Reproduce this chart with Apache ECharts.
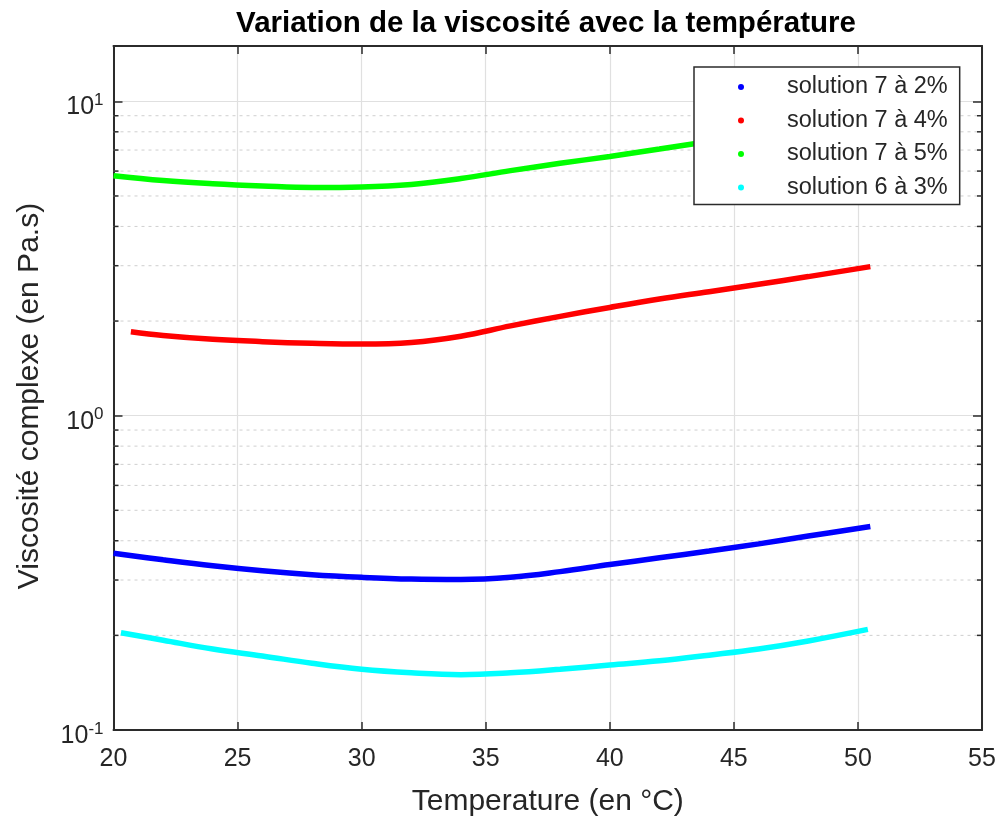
<!DOCTYPE html>
<html>
<head>
<meta charset="utf-8">
<script src="https://cdn.jsdelivr.net/npm/echarts@6/dist/echarts.min.js"></script>
<style>html,body{margin:0;padding:0;background:#fff}#c{width:1003px;height:818px}</style>
</head>
<body>
<div id="c"></div>
<script>
const seriesNames = ['solution 7 à 2%', 'solution 7 à 4%', 'solution 7 à 5%', 'solution 6 à 3%'];
const seriesColors = ['#0000ff', '#ff0000', '#00ff00', '#00ffff'];

const tempBlue = [20, 22, 24, 26, 28, 30, 32, 34, 36, 38, 40, 42, 44, 46, 48, 50.5];
const viscBlue = [0.365, 0.348, 0.333, 0.321, 0.312, 0.306, 0.302, 0.301, 0.306, 0.319, 0.336, 0.353, 0.371, 0.391, 0.414, 0.444];

const tempRed = [20.7, 22, 24, 26, 28, 30, 32, 34, 36, 38, 40, 42, 44, 46, 48, 50.5];
const viscRed = [1.85, 1.80, 1.75, 1.72, 1.70, 1.69, 1.71, 1.79, 1.93, 2.07, 2.21, 2.35, 2.48, 2.62, 2.77, 2.98];

const tempGreen = [20, 22, 24, 26, 28, 30, 32, 34, 36, 38, 40, 42, 44, 46, 48, 50.5];
const viscGreen = [5.80, 5.60, 5.47, 5.38, 5.32, 5.34, 5.44, 5.68, 6.02, 6.35, 6.68, 7.05, 7.45, 7.85, 8.30, 8.95];

const tempCyan = [20.3, 22, 24, 26, 28, 30, 32, 34, 36, 38, 40, 42, 44, 46, 48, 50.4];
const viscCyan = [0.204, 0.193, 0.181, 0.172, 0.163, 0.156, 0.152, 0.150, 0.152, 0.156, 0.161, 0.166, 0.173, 0.181, 0.192, 0.209];

const xTicks = [20, 25, 30, 35, 40, 45, 50, 55];
const yMinorTicks = [0.2, 0.3, 0.4, 0.5, 0.6, 0.7, 0.8, 0.9, 2, 3, 4, 5, 6, 7, 8, 9];

const temps = [tempBlue, tempRed, tempGreen, tempCyan];
const viscs = [viscBlue, viscRed, viscGreen, viscCyan];

const FONT = '"Liberation Sans", Arial, Helvetica, sans-serif';
const TXT = '#262626';
const AX = '#2b2b2b';

const chart = echarts.init(document.getElementById('c'), null, {renderer: 'canvas'});

function pairs(xs, ys) { return xs.map((x, i) => [x, ys[i]]); }

function logLabel(v) {
  const e = Math.log10(v);
  const r = Math.round(e);
  if (Math.abs(e - r) > 1e-6) return '';
  return '{b|10}{s|' + r + '}';
}

const lineSeries = seriesNames.map((n, i) => ({
  name: n,
  type: 'line',
  data: pairs(temps[i], viscs[i]),
  smooth: 0.4,
  showSymbol: false,
  symbol: 'circle',
  lineStyle: {width: 5.5, color: seriesColors[i]},
  itemStyle: {color: seriesColors[i]},
  z: 3,
  silent: true
}));

const minorSeries = {
  type: 'custom',
  name: 'minor',
  silent: true,
  z: 1,
  data: yMinorTicks.map(v => [xTicks[0], v]),
  renderItem: function (params, api) {
    const v = api.value(1);
    const p1 = api.coord([xTicks[0], v]);
    const p2 = api.coord([xTicks[xTicks.length - 1], v]);
    return {
      type: 'group',
      children: [
        {type: 'line', shape: {x1: p1[0], y1: p1[1], x2: p2[0], y2: p2[1]},
         style: {stroke: '#cfcfcf', lineWidth: 1, lineDash: [3, 4]}},
        {type: 'line', shape: {x1: p1[0], y1: p1[1], x2: p1[0] + 5, y2: p1[1]},
         style: {stroke: AX, lineWidth: 1.5}},
        {type: 'line', shape: {x1: p2[0] - 5, y1: p2[1], x2: p2[0], y2: p2[1]},
         style: {stroke: AX, lineWidth: 1.5}}
      ]
    };
  }
};

const option = {
  backgroundColor: '#ffffff',
  animation: false,
  title: {
    text: 'Variation de la viscosité avec la température',
    left: 541,
    top: 4,
    textAlign: 'center',
    textStyle: {fontFamily: FONT, fontSize: 29.5, fontWeight: 'bold', color: '#000'}
  },
  grid: {left: 113.5, right: 21, top: 46, bottom: 88, containLabel: false, outerBoundsMode: 'none'},
  legend: {
    data: seriesNames.map(n => ({name: n, icon: 'circle'})),
    orient: 'vertical',
    left: 694,
    top: 67,
    itemWidth: 6,
    itemHeight: 6,
    itemGap: 9.5,
    padding: [8, 12, 5, 44],
    backgroundColor: '#ffffff',
    borderColor: AX,
    borderWidth: 1.5,
    borderRadius: 0,
    selectedMode: false,
    formatter: '{t|{name}}',
    textStyle: {
      fontFamily: FONT, fontSize: 23.5, color: TXT,
      rich: {t: {fontFamily: FONT, fontSize: 23.5, color: TXT, padding: [0, 0, 0, 38]}}
    }
  },
  xAxis: [{
    type: 'value',
    min: xTicks[0], max: xTicks[xTicks.length - 1], interval: 5,
    name: 'Temperature (en °C)',
    nameLocation: 'middle',
    nameGap: 57,
    nameTextStyle: {fontFamily: FONT, fontSize: 30, color: TXT},
    axisLine: {show: true, lineStyle: {color: AX, width: 2}},
    axisTick: {show: true, inside: true, length: 8, lineStyle: {color: AX, width: 1.5}},
    axisLabel: {fontFamily: FONT, fontSize: 25, color: TXT, margin: 17},
    splitLine: {show: true, lineStyle: {color: '#e0e0e0', width: 1.2}}
  }, {
    type: 'value',
    position: 'top',
    min: xTicks[0], max: xTicks[xTicks.length - 1], interval: 5,
    axisLine: {show: true, lineStyle: {color: AX, width: 2}},
    axisTick: {show: true, inside: true, length: 8, lineStyle: {color: AX, width: 1.5}},
    axisLabel: {show: false},
    splitLine: {show: false}
  }],
  yAxis: [{
    type: 'log',
    logBase: 10,
    min: 0.1, max: 15,
    name: 'Viscosité complexe (en Pa.s)',
    nameLocation: 'middle',
    nameGap: 69,
    nameRotate: 90,
    nameTextStyle: {fontFamily: FONT, fontSize: 30, color: TXT, padding: [0, 16, 0, 0]},
    axisLine: {show: true, lineStyle: {color: AX, width: 2}},
    axisTick: {show: true, inside: true, length: 9, lineStyle: {color: AX, width: 1.5}},
    axisLabel: {
      formatter: logLabel,
      margin: 10,
      padding: [12, 0, 0, 0],
      rich: {
        b: {fontFamily: FONT, fontSize: 25, color: TXT},
        s: {fontFamily: FONT, fontSize: 17, color: TXT, padding: [0, 0, 14, 0]}
      }
    },
    splitLine: {show: true, lineStyle: {color: '#e0e0e0', width: 1.2}}
  }, {
    type: 'log',
    logBase: 10,
    min: 0.1, max: 15,
    position: 'right',
    axisLine: {show: true, lineStyle: {color: AX, width: 2}},
    axisTick: {show: true, inside: true, length: 9, lineStyle: {color: AX, width: 1.5}},
    axisLabel: {show: false},
    splitLine: {show: false}
  }],
  series: [minorSeries].concat(lineSeries)
};

chart.setOption(option);
</script>
</body>
</html>
